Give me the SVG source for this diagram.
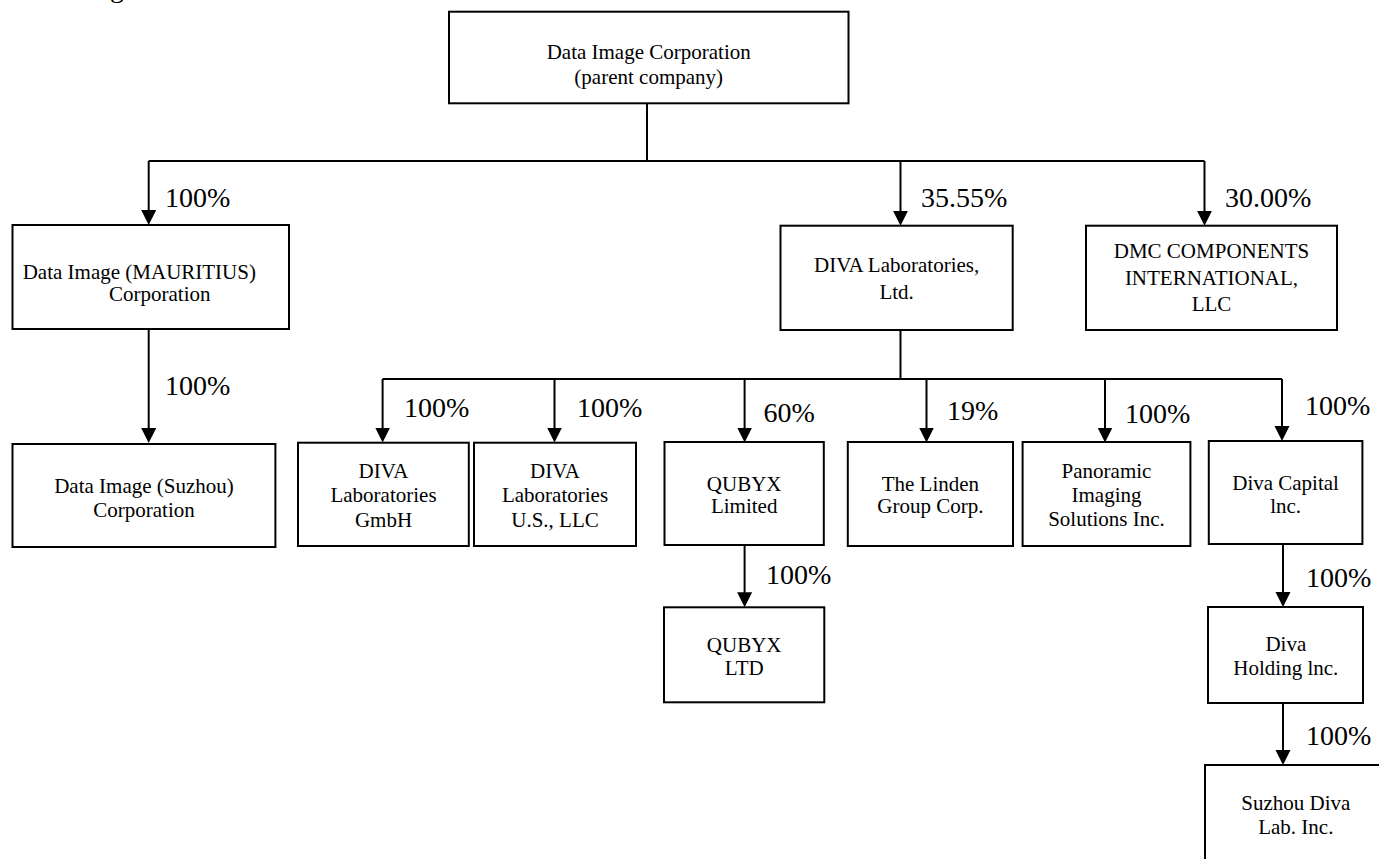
<svg xmlns="http://www.w3.org/2000/svg" width="1379" height="859" viewBox="0 0 1379 859">
<style>
.box{fill:#fff;stroke:#000;stroke-width:2}
.t{font-family:"Liberation Serif","Times New Roman",serif;font-size:21px;fill:#000;text-anchor:middle}
.ts{font-family:"Liberation Serif","Times New Roman",serif;font-size:21px;fill:#000}
.lbl{font-family:"Liberation Serif","Times New Roman",serif;font-size:28px;fill:#000}
.ln{fill:none;stroke:#000;stroke-width:2}
.ar{fill:none;stroke:#000;stroke-width:2;marker-end:url(#ah)}
</style>
<defs>
<marker id="ah" markerUnits="userSpaceOnUse" markerWidth="16" markerHeight="16" refX="1" refY="7.5" orient="auto">
<path d="M0,0 L15,7.5 L0,15 z" fill="#000"/>
</marker>
</defs>
<rect width="1379" height="859" fill="#fff"/>
<text class="lbl" x="110" y="-3" font-size="30">g</text>

<g id="connectors">
<path class="ln" d="M647,103 V161 M148.7,161 H1204.5"/>
<path class="ar" d="M148.7,161 V211"/>
<path class="ar" d="M900.5,161 V211.7"/>
<path class="ar" d="M1204.5,161 V211.7"/>
<path class="ar" d="M148.7,318 V429"/>
<path class="ln" d="M900.5,330 V379 M382.6,379 H1282"/>
<path class="ar" d="M382.6,379 V428.5"/>
<path class="ar" d="M554.5,379 V428.5"/>
<path class="ar" d="M744.6,379 V428.5"/>
<path class="ar" d="M926.5,379 V428.5"/>
<path class="ar" d="M1105,379 V428.5"/>
<path class="ar" d="M1282,379 V427"/>
<path class="ar" d="M744.6,541 V593.3"/>
<path class="ar" d="M1283,544 V593"/>
<path class="ar" d="M1283,703 V751"/>
<text class="lbl" x="165" y="207">100%</text>
<text class="lbl" x="921" y="207">35.55%</text>
<text class="lbl" x="1225" y="207">30.00%</text>
<text class="lbl" x="165" y="395">100%</text>
<text class="lbl" x="404" y="417">100%</text>
<text class="lbl" x="577" y="417">100%</text>
<text class="lbl" x="763.5" y="422">60%</text>
<text class="lbl" x="947" y="420">19%</text>
<text class="lbl" x="1125" y="423">100%</text>
<text class="lbl" x="1305" y="415">100%</text>
<text class="lbl" x="766" y="584">100%</text>
<text class="lbl" x="1306" y="587">100%</text>
<text class="lbl" x="1306" y="745">100%</text>
</g>

<g id="parent">
<rect class="box" x="449" y="11.7" width="399.5" height="91.6"/>
<text class="t" x="648.7" y="59">Data Image Corporation</text>
<text class="t" x="648.7" y="84">(parent company)</text>
</g>
<g id="mauritius">
<rect class="box" x="12.5" y="225" width="276.5" height="104"/>
<text class="ts" x="22.7" y="279">Data Image (MAURITIUS)</text>
<text class="ts" x="109" y="301">Corporation</text>
</g>
<g id="diva-labs">
<rect class="box" x="780.5" y="225.7" width="232.2" height="104.3"/>
<text class="t" x="896.6" y="272">DIVA Laboratories,</text>
<text class="t" x="896.6" y="299">Ltd.</text>
</g>
<g id="dmc">
<rect class="box" x="1086" y="225.7" width="251" height="104.3"/>
<text class="t" x="1211.5" y="258">DMC COMPONENTS</text>
<text class="t" x="1211.5" y="285">INTERNATIONAL,</text>
<text class="t" x="1211.5" y="311">LLC</text>
</g>
<g id="suzhou-corp">
<rect class="box" x="12.5" y="444" width="262.9" height="103"/>
<text class="t" x="144" y="493">Data Image (Suzhou)</text>
<text class="t" x="144" y="517">Corporation</text>
</g>
<g id="diva-gmbh">
<rect class="box" x="298" y="442.7" width="170.8" height="103.3"/>
<text class="t" x="383.5" y="478">DIVA</text>
<text class="t" x="383.5" y="502">Laboratories</text>
<text class="t" x="383.5" y="527">GmbH</text>
</g>
<g id="diva-us">
<rect class="box" x="474" y="442.7" width="162" height="103.3"/>
<text class="t" x="555" y="478">DIVA</text>
<text class="t" x="555" y="502">Laboratories</text>
<text class="t" x="555" y="527">U.S., LLC</text>
</g>
<g id="qubyx-limited">
<rect class="box" x="664.5" y="442" width="159.3" height="103"/>
<text class="t" x="744.2" y="491">QUBYX</text>
<text class="t" x="744.2" y="513">Limited</text>
</g>
<g id="linden">
<rect class="box" x="847.8" y="442" width="165.2" height="104"/>
<text class="t" x="930.4" y="491">The Linden</text>
<text class="t" x="930.4" y="513">Group Corp.</text>
</g>
<g id="panoramic">
<rect class="box" x="1022.6" y="442" width="167.8" height="104"/>
<text class="t" x="1106.5" y="478">Panoramic</text>
<text class="t" x="1106.5" y="502">Imaging</text>
<text class="t" x="1106.5" y="526">Solutions Inc.</text>
</g>
<g id="diva-capital">
<rect class="box" x="1208.8" y="441" width="153.6" height="103"/>
<text class="t" x="1285.6" y="490">Diva Capital</text>
<text class="t" x="1285.6" y="513">lnc.</text>
</g>
<g id="qubyx-ltd">
<rect class="box" x="664" y="607.3" width="160.3" height="95"/>
<text class="t" x="744.2" y="652">QUBYX</text>
<text class="t" x="744.2" y="675">LTD</text>
</g>
<g id="diva-holding">
<rect class="box" x="1208" y="607" width="155" height="96"/>
<text class="t" x="1285.8" y="651">Diva</text>
<text class="t" x="1285.8" y="675">Holding lnc.</text>
</g>
<g id="suzhou-diva">
<rect class="box" x="1205" y="765" width="190" height="110"/>
<text class="t" x="1295.8" y="810">Suzhou Diva</text>
<text class="t" x="1295.8" y="834">Lab. Inc.</text>
</g>
</svg>
